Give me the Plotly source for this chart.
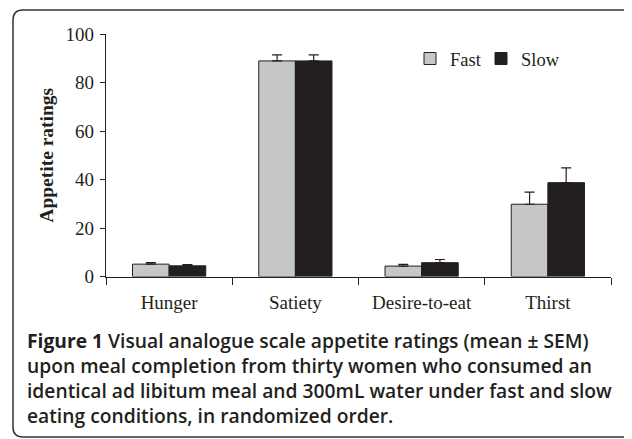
import plotly.graph_objects as go

categories = ["Hunger", "Satiety", "Desire-to-eat", "Thirst"]
fast_values = [5.1, 88.9, 4.3, 29.8]
fast_sem = [0.6, 2.5, 0.7, 5.0]
slow_values = [4.4, 88.9, 5.7, 38.7]
slow_sem = [0.5, 2.5, 1.3, 6.1]
y_ticks = [0, 20, 40, 60, 80, 100]

W, H = 632, 439
OFF = 8  # page body margin


def px(x):
    return (x - OFF) / W


def py(y):
    return 1 - (y - OFF) / H


fig = go.Figure()
fig.add_trace(go.Bar(
    x=categories, y=fast_values, name="Fast", legend="legend",
    marker=dict(color="#c6c7c9", line=dict(color="#231f20", width=1)),
    error_y=dict(type="data", symmetric=False, array=fast_sem, arrayminus=[0]*4,
                 color="#231f20", thickness=1.2, width=5),
))
fig.add_trace(go.Bar(
    x=categories, y=slow_values, name="Slow", legend="legend2",
    marker=dict(color="#231f20", line=dict(color="#231f20", width=1)),
    error_y=dict(type="data", symmetric=False, array=slow_sem, arrayminus=[0]*4,
                 color="#231f20", thickness=1.2, width=5),
))

# rounded border
x0, x1, y0, y1, r = 13, 660, 10, 437, 10
path = (f"M {px(x0+r)},{py(y0)} L {px(x1)},{py(y0)} L {px(x1)},{py(y1)} "
        f"L {px(x0+r)},{py(y1)} Q {px(x0)},{py(y1)} {px(x0)},{py(y1-r)} "
        f"L {px(x0)},{py(y0+r)} Q {px(x0)},{py(y0)} {px(x0+r)},{py(y0)} Z")
fig.add_shape(type="path", path=path, xref="paper", yref="paper",
              line=dict(color="#333333", width=1.5))

caption = ("<b>Figure 1</b> Visual analogue scale appetite ratings (mean ± SEM)<br>"
           "upon meal completion from thirty women who consumed an<br>"
           "identical ad libitum meal and 300mL water under fast and slow<br>"
           "eating conditions, in randomized order.")
fig.add_annotation(text=caption, xref="paper", yref="paper", x=px(25), y=py(325),
                   xanchor="left", yanchor="top", align="left", showarrow=False,
                   font=dict(family="Open Sans", size=19.25, color="#231f20", weight=600))

legend_style = dict(orientation="h", xanchor="left", yanchor="top",
                    font=dict(family="Liberation Serif", size=18.5, color="#231f20"),
                    bgcolor="rgba(0,0,0,0)", itemwidth=30)

fig.update_layout(
    width=W, height=H,
    margin=dict(l=0, r=0, t=0, b=0),
    paper_bgcolor="white", plot_bgcolor="white",
    barmode="group", bargap=0.42, bargroupgap=0,
    showlegend=True,
    legend=dict(x=px(410), y=py(40), **legend_style),
    legend2=dict(x=px(481), y=py(40), **legend_style),
    font=dict(family="Liberation Serif", color="#231f20"),
    xaxis=dict(domain=[px(106), px(611)], showline=True, linecolor="#231f20", linewidth=1.2,
               automargin=False,
               ticks="outside", tickson="boundaries", ticklen=7, tickcolor="#231f20",
               ticklabelstandoff=9,
               tickfont=dict(family="Liberation Serif", size=19, color="#231f20"),
               showgrid=False),
    yaxis=dict(domain=[py(276.5), py(34)], range=[0, 100], tickvals=y_ticks,
               automargin=False,
               showline=True, linecolor="#231f20", linewidth=1.2,
               ticks="outside", ticklen=5, tickcolor="#231f20",
               ticklabelstandoff=2,
               tickfont=dict(family="Liberation Serif", size=19, color="#231f20"),
               showgrid=False, zeroline=False,
               title=dict(text="<b>Appetite ratings</b>", standoff=6,
                          font=dict(family="Liberation Serif", size=19.5, color="#231f20"))),
)

fig.write_html("out.html")
